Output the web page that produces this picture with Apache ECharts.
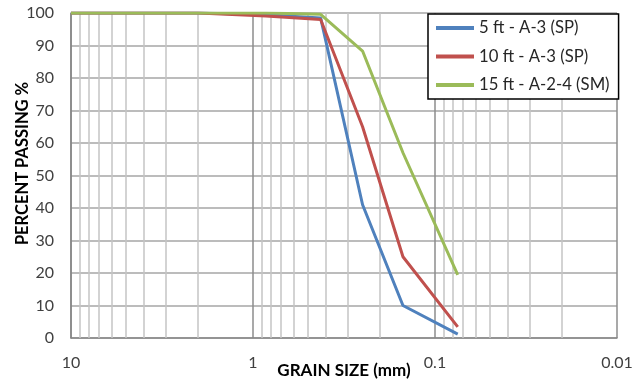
<!DOCTYPE html>
<html>
<head>
<meta charset="utf-8">
<script src="https://cdn.jsdelivr.net/npm/echarts@6/dist/echarts.min.js"></script>
<style>
html,body{margin:0;padding:0;background:#fff;}
#c{width:640px;height:383px;}
</style>
</head>
<body>
<div id="c"></div>
<script>
var grainSizes = [10, 4.75, 2.0, 0.85, 0.425, 0.25, 0.15, 0.075];
var seriesNames = ['5 ft - A-3 (SP)', '10 ft - A-3 (SP)', '15 ft - A-2-4 (SM)'];
var pass5ft  = [100, 100, 100, 99.5, 98.5, 41, 10, 1.2];
var pass10ft = [100, 100, 100, 99.1, 98, 65, 25, 3.4];
var pass15ft = [100, 100, 100, 100, 99.6, 88.3, 57, 19.4];
var xTickLabels = [10, 1, 0.1, 0.01];
var yTicks = [0, 10, 20, 30, 40, 50, 60, 70, 80, 90, 100];
var minorMultipliers = [2, 3, 4, 5, 6, 7, 8, 9];
var decades = [0.01, 0.1, 1];

function pairs(vals) {
  return grainSizes.map(function (g, i) { return [g, vals[i]]; });
}
var minorLines = [];
decades.forEach(function (d) {
  minorMultipliers.forEach(function (m) {
    minorLines.push({ xAxis: +(d * m).toPrecision(3) });
  });
});

var font = 'Lato, "Open Sans", sans-serif';
var chart = echarts.init(document.getElementById('c'), null, { renderer: 'canvas' });
chart.setOption({
  animation: false,
  backgroundColor: '#ffffff',
  grid: { left: 71, right: 23, top: 13, bottom: 45, containLabel: false, outerBoundsMode: 'none' },
  legend: {
    orient: 'vertical',
    left: 428, top: 14,
    z: 20,
    padding: [4, 9, 4, 8],
    itemGap: 8.5,
    itemWidth: 38, itemHeight: 4,
    icon: 'rect',
    backgroundColor: '#ffffff',
    borderColor: '#000000',
    borderWidth: 1.5,
    borderRadius: 0,
    textStyle: { fontFamily: font, fontSize: 16.7, color: '#262626', lineHeight: 20 },
    data: seriesNames
  },
  xAxis: {
    type: 'log',
    logBase: 10,
    min: 0.01, max: 10,
    inverse: true,
    name: 'GRAIN SIZE (mm)',
    nameLocation: 'middle',
    nameGap: 24,
    nameMoveOverlap: false,
    nameTextStyle: { fontFamily: font, fontSize: 17, fontWeight: 'bold', color: '#000' },
    axisLine: { show: true, lineStyle: { color: '#868686', width: 1.5 } },
    axisTick: { show: false },
    axisLabel: {
      fontFamily: font, fontSize: 16, color: '#404040', margin: 17,
      formatter: function (v) { return String(+v.toPrecision(3)); }
    },
    splitLine: { show: true, lineStyle: { color: '#8c8c8c', width: 1.5 } },
    minorTick: { show: false },
    minorSplitLine: { show: false }
  },
  yAxis: {
    type: 'value',
    min: 0, max: 100, interval: 10,
    name: 'PERCENT PASSING %',
    nameLocation: 'middle',
    nameGap: 40,
    nameMoveOverlap: false,
    nameRotate: 90,
    nameTextStyle: { fontFamily: font, fontSize: 16.5, fontWeight: 'bold', color: '#000', padding: [0, 0, 0, 24] },
    axisLine: { show: true, lineStyle: { color: '#868686', width: 1.5 } },
    axisTick: { show: false },
    axisLabel: { fontFamily: font, fontSize: 16, color: '#404040', margin: 17 },
    splitLine: { show: true, lineStyle: { color: '#a6a6a6', width: 1.5 } }
  },
  series: [
    {
      name: 'minor-grid',
      type: 'line',
      data: [],
      z: 1,
      silent: true,
      markLine: {
        z: 1,
        silent: true,
        symbol: ['none', 'none'],
        label: { show: false },
        emphasis: { disabled: true },
        lineStyle: { color: '#c4c4c4', width: 1.5, type: 'solid' },
        animation: false,
        data: minorLines
      }
    },
    {
      name: seriesNames[0], type: 'line', data: pairs(pass5ft), z: 3,
      symbol: 'none', lineStyle: { color: '#4F81BD', width: 3 }, itemStyle: { color: '#4F81BD' }
    },
    {
      name: seriesNames[1], type: 'line', data: pairs(pass10ft), z: 4,
      symbol: 'none', lineStyle: { color: '#C0504D', width: 3 }, itemStyle: { color: '#C0504D' }
    },
    {
      name: seriesNames[2], type: 'line', data: pairs(pass15ft), z: 5,
      symbol: 'none', lineStyle: { color: '#9BBB59', width: 3 }, itemStyle: { color: '#9BBB59' }
    }
  ]
});
</script>
</body>
</html>
